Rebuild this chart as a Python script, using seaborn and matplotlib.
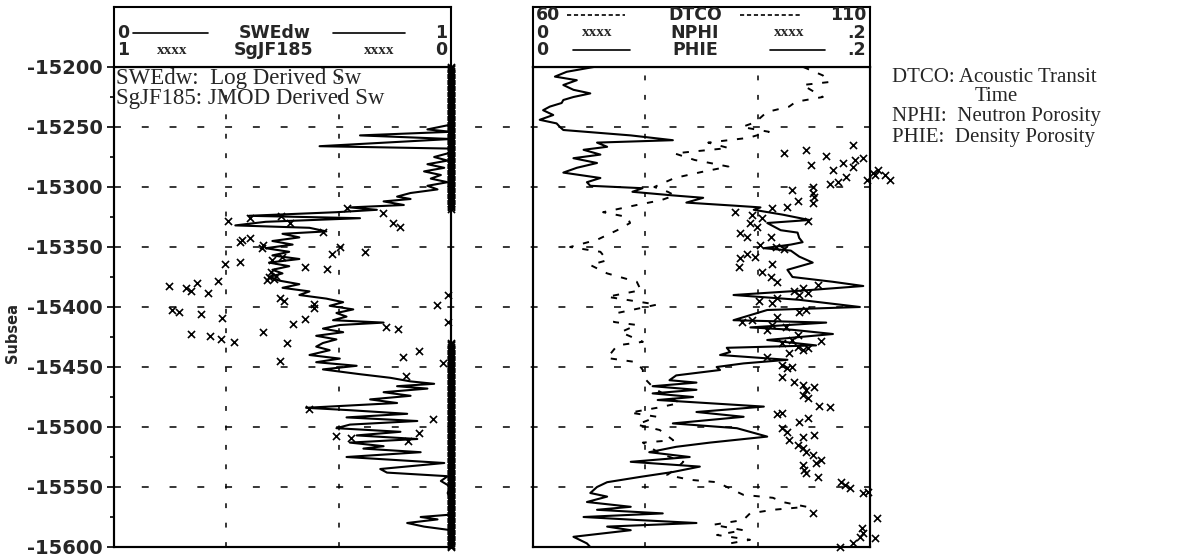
import numpy as np
import pandas as pd
import matplotlib
matplotlib.use("Agg")
import matplotlib.pyplot as plt
import seaborn as sns

# ------------------------------------------------------------------ data
depth_ticks = [-15200, -15250, -15300, -15350, -15400, -15450, -15500, -15550, -15600]
depth_minor = [-15225, -15275, -15325, -15375, -15425, -15475, -15525, -15575]

swe_depth = [-15200, -15248, -15252, -15254, -15257, -15260, -15266, -15268, -15272, -15275,
             -15278, -15281, -15284, -15287, -15290, -15293, -15296, -15299, -15302, -15305,
             -15308, -15310, -15312, -15315, -15317, -15319, -15321, -15324, -15326, -15329,
             -15332, -15334, -15337, -15339, -15342, -15345, -15348, -15351, -15354, -15357,
             -15360, -15363, -15366, -15369, -15372, -15375, -15378, -15381, -15384, -15387,
             -15390, -15393, -15396, -15399, -15402, -15405, -15408, -15411, -15413, -15415,
             -15418, -15421, -15424, -15427, -15430, -15433, -15436, -15440, -15443, -15446,
             -15449, -15452, -15456, -15459, -15462, -15464, -15466, -15468, -15471, -15474,
             -15477, -15480, -15484, -15486, -15489, -15492, -15495, -15498, -15501, -15504,
             -15507, -15510, -15513, -15516, -15518, -15521, -15525, -15530, -15535, -15538,
             -15541, -15545, -15550, -15555, -15560, -15565, -15573, -15575, -15577, -15580,
             -15583, -15586, -15600]
swe_val = [1.00, 1.00, 0.93, 1.00, 0.73, 1.00, 0.61, 1.00, 0.99, 0.95,
           0.99, 0.93, 0.98, 0.92, 0.97, 0.94, 0.99, 0.93, 0.96, 0.88,
           0.84, 0.88, 0.80, 0.86, 0.70, 0.78, 0.66, 0.40, 0.73, 0.45,
           0.36, 0.58, 0.63, 0.50, 0.55, 0.47, 0.53, 0.45, 0.52, 0.47,
           0.55, 0.46, 0.52, 0.47, 0.50, 0.46, 0.49, 0.55, 0.50, 0.58,
           0.55, 0.63, 0.68, 0.64, 0.71, 0.66, 0.69, 0.65, 0.80, 0.67,
           0.62, 0.68, 0.60, 0.66, 0.62, 0.60, 0.64, 0.58, 0.67, 0.60,
           0.72, 0.62, 0.73, 0.82, 0.88, 0.95, 0.84, 0.93, 0.80, 0.88,
           0.76, 0.84, 0.57, 0.70, 0.87, 0.69, 0.90, 0.70, 0.66, 0.85,
           0.72, 0.90, 0.70, 0.80, 0.74, 0.91, 0.69, 0.98, 0.79, 0.81,
           0.99, 0.97, 1.00, 0.99, 1.00, 1.00, 1.00, 0.91, 0.96, 0.87,
           0.92, 1.00, 1.00]

sg_depth = [-15317.5, -15321.7, -15328, -15326, -15330, -15324, -15330, -15333, -15337.5, -15344,
            -15346, -15342.5, -15348, -15351, -15350, -15356, -15354, -15361, -15358, -15364,
            -15362.5, -15367, -15368, -15371, -15374, -15377.5, -15382.5, -15384, -15386.7, -15380,
            -15388, -15378, -15402.5, -15404, -15406, -15409, -15422.5, -15424, -15427, -15429,
            -15421, -15392.5, -15395, -15414, -15410, -15397.5, -15401, -15430, -15445, -15416.7,
            -15418, -15441.7, -15436.7, -15457.5, -15485, -15493, -15505, -15511.7, -15507.5, -15509,
            -15398, -15390, -15412.5, -15446.7, -15375, -15377]
sg_val = [0.309, 0.202, 0.662, 0.597, 0.479, 0.503, 0.172, 0.151, 0.380, 0.620,
          0.626, 0.597, 0.558, 0.561, 0.329, 0.353, 0.255, 0.531, 0.501, 0.671,
          0.626, 0.433, 0.368, 0.534, 0.519, 0.546, 0.837, 0.786, 0.772, 0.754,
          0.721, 0.691, 0.828, 0.807, 0.742, 0.680, 0.772, 0.715, 0.682, 0.644,
          0.558, 0.507, 0.496, 0.469, 0.433, 0.407, 0.407, 0.487, 0.507, 0.193,
          0.157, 0.142, 0.095, 0.134, 0.421, 0.053, 0.095, 0.128, 0.341, 0.297,
          0.042, 0.009, 0.009, 0.024, 0.540, 0.525]
# intervals where SgJF185 reads 0 on every sample (dense column at right edge)
sg_zero_from = [-15200, -15430]
sg_zero_to = [-15318, -15600]
sg_sample_step = 1.0

phie_depth = [-15200, -15204, -15208, -15211, -15215, -15219, -15222, -15225, -15227.5, -15230,
              -15233, -15236, -15240, -15244, -15247, -15250, -15252.5, -15257, -15261, -15263,
              -15266.5, -15269, -15273, -15276, -15280, -15284, -15288, -15292.5, -15296, -15299,
              -15301, -15304, -15307, -15309, -15313, -15315.5, -15317, -15319, -15323, -15327.5,
              -15330, -15336, -15338, -15342.5, -15346, -15348, -15351, -15353, -15358, -15363,
              -15369, -15375, -15379, -15382.5, -15386, -15390, -15394, -15400, -15402.5, -15411,
              -15413, -15417, -15419, -15422.5, -15427.5, -15432, -15434, -15437.5, -15440, -15444,
              -15447, -15450, -15452.5, -15457, -15461, -15463, -15466, -15469, -15472, -15475,
              -15477.5, -15483, -15487.5, -15491.5, -15497, -15501, -15508, -15513, -15516.5, -15521,
              -15525, -15529, -15533, -15537.5, -15541.5, -15546, -15550, -15555, -15558, -15562.5,
              -15566.5, -15569, -15572, -15575, -15577.5, -15580, -15583, -15586, -15591.5, -15597,
              -15600]
phie_val = [0.036, 0.020, 0.013, 0.026, 0.018, 0.024, 0.034, 0.024, 0.018, 0.017,
            0.010, 0.006, 0.012, 0.004, 0.014, 0.016, 0.018, 0.058, 0.083, 0.038,
            0.044, 0.030, 0.040, 0.024, 0.038, 0.026, 0.018, 0.040, 0.032, 0.034,
            0.065, 0.059, 0.083, 0.101, 0.091, 0.119, 0.135, 0.131, 0.148, 0.164,
            0.139, 0.147, 0.157, 0.158, 0.160, 0.153, 0.137, 0.153, 0.158, 0.166,
            0.151, 0.154, 0.178, 0.196, 0.163, 0.119, 0.158, 0.194, 0.139, 0.119,
            0.174, 0.129, 0.154, 0.178, 0.139, 0.168, 0.115, 0.117, 0.111, 0.151,
            0.125, 0.109, 0.111, 0.085, 0.081, 0.097, 0.071, 0.097, 0.071, 0.095,
            0.074, 0.137, 0.097, 0.125, 0.083, 0.121, 0.139, 0.105, 0.085, 0.069,
            0.093, 0.058, 0.099, 0.083, 0.064, 0.044, 0.038, 0.034, 0.044, 0.032,
            0.058, 0.038, 0.077, 0.030, 0.062, 0.097, 0.044, 0.058, 0.024, 0.032,
            0.034]

dtco_depth = [-15200, -15207, -15212.5, -15215, -15225, -15229, -15233, -15237.5, -15246, -15250,
              -15254, -15259, -15263, -15267.5, -15272, -15277.5, -15283, -15287.5, -15292.5, -15300,
              -15304, -15307, -15311, -15315, -15321, -15325, -15330, -15336, -15344, -15350,
              -15354, -15361, -15365, -15372, -15379, -15386, -15391.5, -15398, -15405, -15412.5,
              -15415, -15421, -15429, -15432, -15442.5, -15446, -15452.5, -15458, -15468, -15480,
              -15484, -15488, -15491.5, -15498, -15502.5, -15511, -15513, -15522, -15529, -15534,
              -15540, -15544, -15546, -15552.5, -15556.5, -15559, -15562.5, -15566.5, -15569, -15572,
              -15577.5, -15581.5, -15586, -15590, -15594, -15598]
dtco_val = [100.1, 103.0, 104.0, 100.0, 103.0, 99.0, 98.0, 94.7, 93.0, 91.0,
            95.0, 92.0, 86.0, 89.0, 81.0, 84.0, 89.0, 85.0, 81.0, 78.0,
            80.0, 81.0, 79.0, 75.4, 70.4, 74.0, 74.4, 72.5, 69.5, 65.5,
            70.0, 71.0, 68.5, 71.0, 75.4, 76.0, 71.0, 78.4, 72.5, 72.0,
            75.4, 73.0, 76.3, 72.5, 71.0, 75.4, 76.3, 76.3, 78.0, 81.8,
            78.4, 74.4, 78.4, 75.4, 78.8, 80.8, 76.3, 78.8, 82.3, 81.4,
            79.9, 83.3, 87.3, 89.7, 91.2, 95.6, 97.0, 100.6, 95.6, 92.2,
            91.2, 86.7, 91.2, 87.3, 92.2, 88.2]

nphi_depth = [-15265, -15269, -15272, -15274, -15282, -15280, -15277.5, -15276, -15283, -15286,
              -15292, -15296, -15297.5, -15288, -15294, -15290, -15300, -15302.5, -15305, -15308,
              -15313, -15312, -15317, -15317.5, -15328, -15321, -15323, -15326, -15330, -15333,
              -15338, -15342, -15342, -15348, -15350, -15352, -15356, -15359, -15358, -15367,
              -15364, -15371, -15375, -15379, -15387, -15384, -15390, -15388, -15382, -15395,
              -15397, -15392.5, -15404, -15402.5, -15408, -15411, -15412.5, -15415, -15417, -15419,
              -15423, -15427.5, -15428, -15430, -15433, -15434, -15436, -15438, -15442, -15448,
              -15451, -15450, -15458, -15462.5, -15465, -15467, -15469, -15473, -15476, -15482.5,
              -15483, -15489, -15488, -15496, -15492.5, -15501, -15504, -15508, -15507, -15511,
              -15515, -15517.5, -15521, -15523, -15527.5, -15530, -15532, -15536, -15538, -15542,
              -15546, -15548, -15551, -15555, -15554, -15572, -15576, -15584, -15588, -15592,
              -15592.5, -15597, -15600, -15286, -15290, -15294]
nphi_val = [0.190, 0.162, 0.149, 0.174, 0.165, 0.184, 0.191, 0.196, 0.190, 0.178,
            0.186, 0.181, 0.176, 0.202, 0.198, 0.203, 0.166, 0.154, 0.166, 0.167,
            0.166, 0.157, 0.151, 0.142, 0.163, 0.120, 0.130, 0.136, 0.129, 0.133,
            0.123, 0.127, 0.141, 0.135, 0.144, 0.149, 0.127, 0.123, 0.132, 0.122,
            0.142, 0.136, 0.141, 0.145, 0.155, 0.160, 0.158, 0.163, 0.169, 0.134,
            0.142, 0.145, 0.158, 0.162, 0.145, 0.130, 0.124, 0.142, 0.150, 0.139,
            0.157, 0.154, 0.171, 0.148, 0.157, 0.163, 0.160, 0.152, 0.139, 0.148,
            0.151, 0.154, 0.148, 0.155, 0.160, 0.167, 0.162, 0.160, 0.163, 0.170,
            0.176, 0.145, 0.148, 0.158, 0.163, 0.148, 0.151, 0.160, 0.167, 0.152,
            0.157, 0.160, 0.162, 0.166, 0.171, 0.168, 0.160, 0.161, 0.162, 0.169,
            0.183, 0.185, 0.188, 0.196, 0.199, 0.166, 0.204, 0.195, 0.196, 0.194,
            0.203, 0.190, 0.182, 0.205, 0.209, 0.212]

# ------------------------------------------------------------------ style
sns.set_theme(style="white")
plt.rcParams["font.family"] = ["DejaVu Sans"]
plt.rcParams["lines.scale_dashes"] = False

W, H = 1181, 560
fig = plt.figure(figsize=(W / 100, H / 100), dpi=100)
fig.patch.set_facecolor("white")


def rect(x0, y_top, w, h):
    return [x0 / W, 1 - (y_top + h) / H, w / W, h / H]


ax_l = fig.add_axes(rect(114, 67, 337, 480))
ax_r = fig.add_axes(rect(533, 67, 337, 480), sharey=ax_l)
hd_l = fig.add_axes(rect(114, 7, 337, 60))
hd_r = fig.add_axes(rect(533, 7, 337, 60))

BLK = "black"
SPW = 1.5
HDASH = (0, (5, 15))
VDASH = (0, (3.5, 10.5))

# ---------------------------------------------------------------- left track
swe_df = pd.DataFrame({"depth": swe_depth, "SWEdw": swe_val})
sns.lineplot(data=swe_df, x="SWEdw", y="depth", sort=False, estimator=None,
             color=BLK, lw=1.5, ax=ax_l, zorder=4)
ax_l.set_xlim(0, 1)
ax_l.set_ylim(depth_ticks[-1], depth_ticks[0])

ax_sg = ax_l.twiny()
ax_sg.set_xlim(1, 0)
sg_df = pd.DataFrame({"depth": sg_depth, "Sg": sg_val})
zero_parts = []
for a, b in zip(sg_zero_from, sg_zero_to):
    dd = np.arange(a, b - 0.01, -sg_sample_step)
    zero_parts.append(pd.DataFrame({"depth": dd, "Sg": np.zeros_like(dd)}))
sg_all = pd.concat([sg_df] + zero_parts, ignore_index=True)
sns.scatterplot(data=sg_all, x="Sg", y="depth", marker="x", color=BLK, s=26,
                linewidth=1.2, ax=ax_sg, zorder=5, legend=False, clip_on=False)
ax_sg.set_xlim(1, 0)

# ---------------------------------------------------------------- right track
ax_r.patch.set_visible(False)
phie_df = pd.DataFrame({"depth": phie_depth, "PHIE": phie_val})
sns.lineplot(data=phie_df, x="PHIE", y="depth", sort=False, estimator=None,
             color=BLK, lw=1.5, ax=ax_r, zorder=4)
nphi_df = pd.DataFrame({"depth": nphi_depth, "NPHI": nphi_val})
sns.scatterplot(data=nphi_df, x="NPHI", y="depth", marker="x", color=BLK, s=26,
                linewidth=1.2, ax=ax_r, zorder=5, legend=False, clip_on=False)
ax_r.set_xlim(0, 0.2)

ax_dt = ax_r.twiny()
dt_df = pd.DataFrame({"depth": dtco_depth, "DTCO": dtco_val})
sns.lineplot(data=dt_df, x="DTCO", y="depth", sort=False, estimator=None,
             color=BLK, lw=1.4, linestyle=(0, (4.5, 7)), ax=ax_dt, zorder=3)
ax_dt.set_xlim(60, 110)

# ---------------------------------------------------------------- axes styling
for a in (ax_l, ax_sg, ax_r, ax_dt):
    a.set_xticks([])
    a.set_xlabel("")
    a.set_ylabel("")
    for s in a.spines.values():
        s.set_color(BLK)
        s.set_linewidth(SPW)

ax_l.set_yticks(depth_ticks)
ax_l.set_yticks(depth_minor, minor=True)
ax_l.set_yticklabels([str(t) for t in depth_ticks], fontsize=14, fontweight="bold")
ax_l.tick_params(axis="y", which="major", direction="out", length=5, width=1.2,
                 color=BLK, pad=3, left=True)
ax_l.tick_params(axis="y", which="minor", direction="out", length=3, width=1.2,
                 color=BLK, left=True)
ax_r.tick_params(axis="y", which="both", left=False, labelleft=False)
ax_l.set_ylim(depth_ticks[-1], depth_ticks[0])

# vertical dashed grid at thirds of each track
for a in (ax_l, ax_r):
    for f in (1 / 3, 2 / 3):
        a.plot([f, f], [0, 1], transform=a.transAxes, color=BLK, lw=1.1,
               linestyle=VDASH, zorder=1)

# horizontal dashed grid spanning both tracks
span = (880 - 114) / 337
for d in depth_ticks[1:-1]:
    ax_l.plot([0, span], [d, d], transform=ax_l.get_yaxis_transform(), color=BLK,
              lw=1.1, linestyle=HDASH, clip_on=False, zorder=1)

# curve descriptions inside the left track
serif = "Liberation Serif"
ax_l.text(0.006, 1 - 17 / 480, "SWEdw:  Log Derived Sw", transform=ax_l.transAxes,
          fontsize=16.5, family=serif, va="baseline", ha="left", clip_on=True, zorder=6)
ax_l.text(0.006, 1 - 37 / 480, "SgJF185: JMOD Derived Sw", transform=ax_l.transAxes,
          fontsize=16.5, family=serif, va="baseline", ha="left", clip_on=True, zorder=6)

# y label
fig.text(13 / W, 1 - 333 / H, "Subsea", rotation=90, ha="center", va="center",
         fontsize=10.5, fontweight="bold")

# ---------------------------------------------------------------- headers
HF = dict(fontsize=12.5, fontweight="bold", va="center")
XF = dict(fontsize=11, family=serif, fontweight="bold", va="center", ha="center")
for h in (hd_l, hd_r):
    h.set_xlim(0, 1)
    h.set_ylim(0, 1)
    h.set_xticks([])
    h.set_yticks([])
    for s in h.spines.values():
        s.set_color(BLK)
        s.set_linewidth(SPW)

# left header
y1, y2 = 0.567, 0.283
hd_l.text(0.01, y1, "0", ha="left", **HF)
hd_l.plot([0.055, 0.279], [y1, y1], color=BLK, lw=1.2)
hd_l.text(0.478, y1, "SWEdw", ha="center", **HF)
hd_l.plot([0.650, 0.864], [y1, y1], color=BLK, lw=1.2)
hd_l.text(0.988, y1, "1", ha="right", **HF)
hd_l.text(0.01, y2, "1", ha="left", **HF)
hd_l.text(0.172, y2, "xxxx", **XF)
hd_l.text(0.472, y2, "SgJF185", ha="center", **HF)
hd_l.text(0.786, y2, "xxxx", **XF)
hd_l.text(0.988, y2, "0", ha="right", **HF)

# right header
r1, r2, r3 = 0.875, 0.575, 0.283
hd_r.text(0.01, r1, "60", ha="left", **HF)
hd_r.plot([0.10, 0.273], [r1, r1], color=BLK, lw=1.2, linestyle=(0, (3, 2)))
hd_r.text(0.48, r1, "DTCO", ha="center", **HF)
hd_r.plot([0.614, 0.792], [r1, r1], color=BLK, lw=1.2, linestyle=(0, (3, 2)))
hd_r.text(0.988, r1, "110", ha="right", **HF)
hd_r.text(0.01, r2, "0", ha="left", **HF)
hd_r.text(0.19, r2, "xxxx", **XF)
hd_r.text(0.48, r2, "NPHI", ha="center", **HF)
hd_r.text(0.76, r2, "xxxx", **XF)
hd_r.text(0.988, r2, ".2", ha="right", **HF)
hd_r.text(0.01, r3, "0", ha="left", **HF)
hd_r.plot([0.119, 0.288], [r3, r3], color=BLK, lw=1.2)
hd_r.text(0.48, r3, "PHIE", ha="center", **HF)
hd_r.plot([0.703, 0.866], [r3, r3], color=BLK, lw=1.2)
hd_r.text(0.988, r3, ".2", ha="right", **HF)

# descriptions to the right
LF = dict(fontsize=15, family=serif, ha="left", va="baseline")
fig.text(892 / W, 1 - 82 / H, "DTCO: Acoustic Transit", **LF)
fig.text(975 / W, 1 - 101 / H, "Time", **LF)
fig.text(892 / W, 1 - 121 / H, "NPHI:  Neutron Porosity", **LF)
fig.text(892 / W, 1 - 142 / H, "PHIE:  Density Porosity", **LF)

fig.savefig("out.png", dpi=100, facecolor="white")
